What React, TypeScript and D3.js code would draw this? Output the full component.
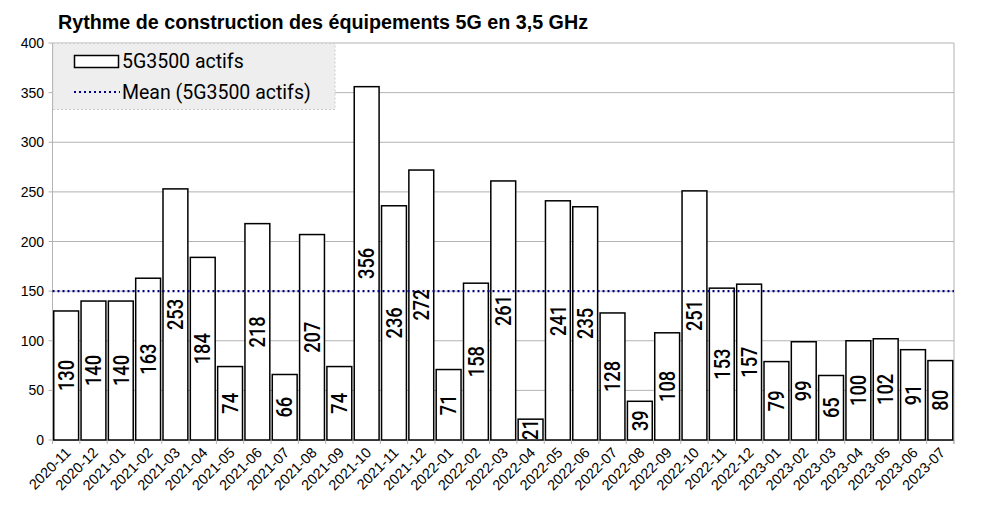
import React from "react";
import * as d3 from "d3";

const months = [
  "2020-11","2020-12",
  "2021-01","2021-02","2021-03","2021-04","2021-05","2021-06","2021-07","2021-08","2021-09","2021-10","2021-11","2021-12",
  "2022-01","2022-02","2022-03","2022-04","2022-05","2022-06","2022-07","2022-08","2022-09","2022-10","2022-11","2022-12",
  "2023-01","2023-02","2023-03","2023-04","2023-05","2023-06","2023-07",
];
const actifs = [
  130,140,
  140,163,253,184,74,218,66,207,74,356,236,272,
  71,158,261,21,241,235,128,39,108,251,153,157,
  79,99,65,100,102,91,80,
];
const meanValue = 150;
const yTicks = [0,50,100,150,200,250,300,350,400];
const title = "Rythme de construction des équipements 5G en 3,5 GHz";
const seriesName = "5G3500 actifs";
const meanName = "Mean (5G3500 actifs)";

export default function App() {
  const W = 985, H = 507;
  const left = 52.5, right = 954, top = 43, bottom = 440;
  const x = d3.scaleBand<string>().domain(months).range([left, right]).paddingInner(0.09).paddingOuter(0.045);
  const y = d3.scaleLinear().domain([0, 400]).range([bottom, top]);
  const step = x.step();
  const bw = x.bandwidth();
  const boundaries = months.map((m) => x(m)! - (step * 0.09) / 2);
  boundaries.push(right);
  const tickFont = "'Liberation Sans', Arial, sans-serif";
  return (
    <svg width={W} height={H} style={{ display: "block", position: "absolute", left: 0, top: 0 }}>
      <rect x={0} y={0} width={W} height={H} fill="#fff" />
      <text x={58} y={28.5} fontFamily="'Liberation Sans', Arial, sans-serif" fontWeight="bold" fontSize={19.5} fill="#000" textLength={530} lengthAdjust="spacingAndGlyphs">{title}</text>
      {yTicks.map((t) => (
        <g key={t}>
          {t > 0 && <line x1={left} x2={right} y1={y(t)} y2={y(t)} stroke="#b3b3b3" strokeWidth={1} />}
          <line x1={left - 4} x2={left} y1={y(t)} y2={y(t)} stroke="#b3b3b3" strokeWidth={1} />
          <text x={44} y={y(t)} dy="0.36em" textAnchor="end" fontFamily={tickFont} fontSize={14} fill="#000">{t}</text>
        </g>
      ))}
      <line x1={right} x2={right} y1={top} y2={bottom + 4} stroke="#b3b3b3" strokeWidth={1} />
      <line x1={left} x2={left} y1={top} y2={bottom} stroke="#b3b3b3" strokeWidth={1} />
      <line x1={left} x2={right} y1={bottom} y2={bottom} stroke="#b3b3b3" strokeWidth={1} />
      {boundaries.map((b, i) => (
        <line key={i} x1={b} x2={b} y1={bottom} y2={bottom + 4} stroke="#b3b3b3" strokeWidth={1} />
      ))}
      {months.map((m, i) => (
        <rect key={m} x={x(m)!} y={y(actifs[i])} width={bw} height={bottom - y(actifs[i])} fill="#fff" stroke="#000" strokeWidth={1.5} />
      ))}
      <line x1={left} x2={right} y1={y(meanValue)} y2={y(meanValue)} stroke="#000080" strokeWidth={2.2} strokeDasharray="2 3" />
      {months.map((m, i) => {
        const cx = x(m)! + bw / 2;
        const cy = (y(actifs[i]) + bottom) / 2;
        return (
          <text key={m} transform={`translate(${cx},${cy}) rotate(-90) scale(0.85,1)`} textAnchor="middle" dy="0.36em" fontFamily="Roboto, sans-serif" fontWeight={500} fontSize={21.5} fill="#000">{actifs[i]}</text>
        );
      })}
      {months.map((m) => {
        const cx = x(m)! + bw / 2 + 2;
        return (
          <text key={m} transform={`translate(${cx},${bottom + 10}) rotate(-45)`} textAnchor="end" dy="0.35em" fontFamily={tickFont} fontSize={14.5} fill="#000">{m}</text>
        );
      })}
      <rect x={left + 0.5} y={top + 0.5} width={282} height={66} fill="#eeeeee" stroke="#cccccc" strokeWidth={1} strokeDasharray="2 2" />
      <rect x={74.5} y={55.5} width={44} height={12} fill="#fff" stroke="#000" strokeWidth={1.5} />
      <text x={122} y={67.5} fontFamily="Roboto, sans-serif" fontSize={19.5} fill="#000">{seriesName}</text>
      <line x1={74} x2={120} y1={92} y2={92} stroke="#000080" strokeWidth={2.2} strokeDasharray="2 3" />
      <text x={122} y={99} fontFamily="Roboto, sans-serif" fontSize={19.5} fill="#000">{meanName}</text>
    </svg>
  );
}
